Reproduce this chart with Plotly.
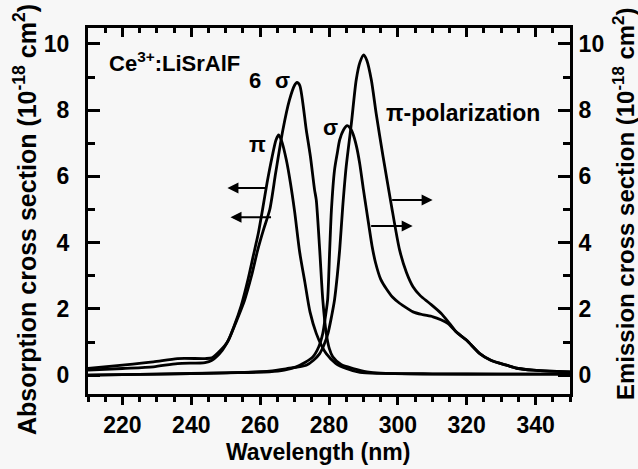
import plotly.graph_objects as go

# ---- data ----
abs_pi_x = [210, 220, 229, 236, 244, 246, 248.5, 250.5, 252.5, 254.5, 256.5, 258, 259.5, 260.7, 262, 263.5,
            264.6, 265.4, 266.3, 267.6, 268.8, 270, 271.5, 273, 274.5, 276.3, 277.8, 279.2, 282, 285, 289, 295, 310, 330, 350]
abs_pi_y = [0.2, 0.3, 0.4, 0.5, 0.5, 0.52, 0.75, 1.0, 1.5, 2.1, 2.9, 3.6, 4.3, 5.0, 5.8, 6.6,
            7.1, 7.25, 7.05, 6.5, 5.8, 4.95, 3.7, 2.8, 1.9, 1.26, 0.9, 0.65, 0.35, 0.2, 0.08, 0.05, 0.03, 0.03, 0.03]

abs_sigma_x = [210, 220, 229, 236, 244, 246, 249, 251, 253, 255.5, 257.5, 259.3, 261, 262.8, 264.5, 266.6,
               268.5, 270, 270.7, 271.5, 273.4, 274.6, 275.8, 276.3, 277.3, 278.2, 279.2, 280.1, 281.1, 283.5,
               287, 291, 295, 310, 330, 350]
abs_sigma_y = [0.15, 0.2, 0.25, 0.35, 0.38, 0.45, 0.75, 1.1, 1.6, 2.27, 3.0, 3.78, 4.4, 5.0, 6.1, 7.4,
               8.3, 8.75, 8.84, 8.75, 7.4, 6.6, 5.6, 5.29, 3.78, 2.27, 1.26, 0.8, 0.55, 0.32,
               0.2, 0.1, 0.06, 0.04, 0.03, 0.03]

em_sigma_x = [210, 230, 250, 262.7, 267, 270.5, 273, 275.3, 277, 278.2, 279, 279.6, 280.2, 280.7, 281.6,
              282.4, 283.1, 284.2, 285.3, 286.2, 286.9, 288, 288.9, 290, 290.8, 291.6, 292.5, 293.5, 295,
              296.7, 298.5, 300.5, 302.5, 304.4, 307, 310.2, 312.5, 314.5, 317, 319.9, 323.8, 327, 331.5,
              335, 339.3, 344, 350]
em_sigma_y = [0.0, 0.03, 0.07, 0.1, 0.15, 0.25, 0.38, 0.55, 0.85, 1.26, 1.8, 2.27, 3.78, 4.98, 6.19,
              6.7, 7.1, 7.4, 7.53, 7.45, 7.3, 6.9, 6.4, 5.6, 5.05, 4.5, 3.9, 3.4, 2.9,
              2.6, 2.35, 2.17, 2.03, 1.91, 1.83, 1.76, 1.67, 1.56, 1.3, 1.06, 0.65, 0.45, 0.3,
              0.2, 0.15, 0.12, 0.1]

em_pi_x = [210, 230, 250, 262.7, 268, 273.4, 275.5, 277.3, 278.5, 279.7, 280.7, 281.6, 282.4, 283.1, 284,
           285, 286.5, 287.9, 289, 290.1, 291, 292.3, 293.7, 295.7, 298, 300.5, 302.5, 304.4, 306.5,
           309.2, 312.6, 315, 317, 319.9, 323.8, 327, 331.5, 335, 339.3, 344, 350]
em_pi_y = [0.0, 0.03, 0.07, 0.12, 0.2, 0.3, 0.45, 0.65, 0.9, 1.26, 1.75, 2.27, 3.0, 3.78, 5.1,
           6.3, 7.6, 8.91, 9.45, 9.67, 9.5, 8.91, 7.9, 6.6, 5.2, 3.78, 3.1, 2.67, 2.4,
           2.17, 1.86, 1.56, 1.3, 1.06, 0.65, 0.45, 0.3, 0.2, 0.15, 0.12, 0.1]

x_ticks = [220, 240, 260, 280, 300, 320, 340]
y_ticks = [0, 2, 4, 6, 8, 10]

X_RANGE = [210, 350]
Y_RANGE = [-0.57, 10.48]

FONT = "Liberation Sans, Arial, sans-serif"
BG = "#f7f7f7"
LW = 2.8

fig = go.Figure()
for xs, ys, ax in [(abs_pi_x, abs_pi_y, "y"), (abs_sigma_x, abs_sigma_y, "y"),
                   (em_sigma_x, em_sigma_y, "y2"), (em_pi_x, em_pi_y, "y2")]:
    fig.add_trace(go.Scatter(x=xs, y=ys, mode="lines", yaxis=ax,
                             line=dict(color="black", width=LW, shape="spline", smoothing=0.7),
                             showlegend=False, hoverinfo="skip"))
# placeholder trace to anchor the top axis
fig.add_trace(go.Scatter(x=[None], y=[None], xaxis="x2", yaxis="y", showlegend=False, hoverinfo="skip"))

tickfont = dict(family=FONT, size=23, color="black", weight="bold")
common_axis = dict(showline=True, linecolor="black", linewidth=3, showgrid=False, zeroline=False,
                   tickcolor="black", tickwidth=2.5)

fig.update_layout(
    width=638, height=469, autosize=False,
    margin=dict(l=88, r=68, t=28, b=75),
    paper_bgcolor=BG, plot_bgcolor=BG,
    xaxis=dict(range=X_RANGE, tickvals=x_ticks, ticks="outside", ticklen=8, tickfont=tickfont,
               ticklabelstandoff=0,
               minor=dict(dtick=5, tick0=210, ticks="outside", ticklen=5, tickwidth=2.5, tickcolor="black"),
               **common_axis),
    xaxis2=dict(range=X_RANGE, overlaying="x", side="top", anchor="y", tickvals=x_ticks,
                ticks="inside", ticklen=9, showticklabels=False,
                minor=dict(dtick=5, tick0=210, ticks="inside", ticklen=5, tickwidth=2.5, tickcolor="black"),
                **common_axis),
    yaxis=dict(range=Y_RANGE, tickvals=y_ticks, ticks="inside", ticklen=12, tickfont=tickfont,
               ticklabelstandoff=11,
               minor=dict(dtick=1, tick0=0, ticks="inside", ticklen=7, tickwidth=2.5, tickcolor="black"),
               **common_axis),
    yaxis2=dict(range=Y_RANGE, overlaying="y", side="right", anchor="x", tickvals=y_ticks, ticks="inside",
                ticklen=12, tickfont=tickfont, ticklabelstandoff=1,
                minor=dict(dtick=1, tick0=0, ticks="inside", ticklen=7, tickwidth=2.5, tickcolor="black"),
                **common_axis),
)

xtitle_font = dict(family=FONT, size=23, color="black", weight="bold")
ytitle_font = dict(family=FONT, size=25, color="black", weight="bold")
ann_font = dict(family=FONT, size=22, color="black", weight="bold")

annotations = [
    dict(text="Wavelength (nm)", xref="paper", yref="paper", x=(318 - 88) / 482, y=(394 - 452) / 366,
         xanchor="center", yanchor="middle", showarrow=False, font=xtitle_font),
    dict(text="Absorption cross section (10<sup>-18</sup> cm<sup>2</sup>)", xref="paper", yref="paper",
         x=(25 - 88) / 482, y=(394 - 220) / 366, textangle=-90, xanchor="center", yanchor="middle",
         showarrow=False, font=ytitle_font),
    dict(text="Emission cross section (10<sup>-18</sup> cm<sup>2</sup>)", xref="paper", yref="paper",
         x=(624 - 88) / 482, y=(394 - 204) / 366, textangle=-90, xanchor="center", yanchor="middle",
         showarrow=False, font=dict(family=FONT, size=24, color="black", weight="bold")),
    dict(text="Ce<sup>3+</sup>:LiSrAlF", x=215.6, y=9.46, xanchor="left", yanchor="middle",
         showarrow=False, font=ann_font),
    dict(text="6", x=258.4, y=8.91, xanchor="center", yanchor="middle", showarrow=False, font=ann_font),
    dict(text="σ", x=266.5, y=8.91, xanchor="center", yanchor="middle", showarrow=False, font=ann_font),
    dict(text="π", x=259.2, y=6.95, xanchor="center", yanchor="middle", showarrow=False, font=ann_font),
    dict(text="σ", x=280.5, y=7.49, xanchor="center", yanchor="middle", showarrow=False, font=ann_font),
    dict(text="π-polarization", x=318.8, y=7.92, xanchor="center", yanchor="middle", showarrow=False,
         font=dict(family=FONT, size=23, color="black", weight="bold")),
]
# arrows: (tail x, tail y, head x)
arrows = [(261.9, 5.65, 250.5), (263.6, 4.77, 251.4), (297.9, 5.29, 310.1), (291.8, 4.5, 304.3)]
for tx, ty, hx in arrows:
    annotations.append(dict(x=hx, y=ty, ax=tx, ay=ty, xref="x", yref="y", axref="x", ayref="y",
                            text="", showarrow=True, arrowhead=2, arrowsize=1.1, arrowwidth=2,
                            arrowcolor="black"))
fig.update_layout(annotations=annotations)

fig.write_html("out.html", config={"displayModeBar": False},
               post_script="document.body.style.margin='0px';document.body.style.overflow='hidden';")
